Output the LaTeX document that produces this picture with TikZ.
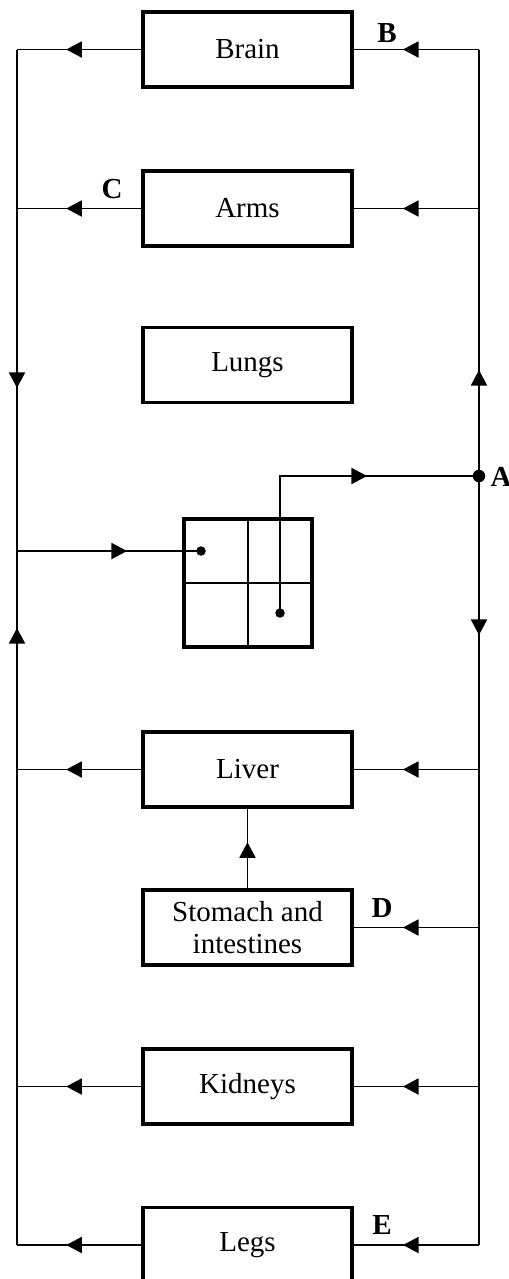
\documentclass[tikz,border=0pt]{standalone}
\usepackage{fontspec}
\setmainfont{Liberation Serif}
\usetikzlibrary{arrows.meta,decorations.markings}
\tikzset{
  organ/.style={draw,line width=2pt,minimum width=4.18cm,minimum height=1.5cm,inner sep=0pt,align=center,font=\fontsize{16.5}{18.5}\selectfont},
  conn/.style={line width=1.05pt},
  arrowat/.style={postaction={decorate},decoration={markings,mark=at position #1 with {\arrow{Triangle[length=0.31cm,width=0.32cm]}}}},
  dot/.style={circle,fill,inner sep=0pt,minimum size=#1},
  lab/.style={font=\fontsize{16.5}{18.5}\selectfont\bfseries}
}
\begin{document}
\begin{tikzpicture}[x=0.02cm,y=-0.02cm]
\useasboundingbox (0,0) rectangle (509,1279);
% organ boxes
\node[organ] (brain) at (247.5,49.5) {Brain};
\node[organ] (arms) at (247.5,208.5) {Arms};
\node[organ] (lungs) at (247.5,365) {Lungs};
\node[organ] (liver) at (247.5,769.5) {Liver};
\node[organ] (stomach) at (247.5,927.5) {Stomach and\\intestines};
\node[organ] (kidneys) at (247.5,1086.5) {Kidneys};
\node[organ] (legs) at (247.5,1245) {Legs};
% heart
\node[draw,line width=2pt,minimum size=2.56cm,inner sep=0pt] (heart) at (248,583) {};
\draw[conn] (heart.north) -- (heart.south);
\draw[conn] (heart.west) -- (heart.east);
\node[dot=0.19cm] (d1) at (201,551) {};
\node[dot=0.19cm] (d2) at (280,613) {};
% left trunk coordinates
\coordinate (Lb) at (17,49.5);
\coordinate (La) at (17,208.5);
\coordinate (Lh) at (17,551);
\coordinate (Ll) at (17,769.5);
\coordinate (Lk) at (17,1086.5);
\coordinate (Lg) at (17,1245);
% right trunk coordinates
\node[dot=0.25cm] (A) at (479,476) {};
\coordinate (Rb) at (479,49.5);
\coordinate (Ra) at (479,208.5);
\coordinate (Rl) at (479,769.5);
\coordinate (Rs) at (479,927.5);
\coordinate (Rk) at (479,1086.5);
\coordinate (Rg) at (479,1245);
% left trunk
\draw[conn] (Lb) -- (La);
\draw[conn,arrowat=3.59cm] (La) -- (Lh);
\draw[conn] (Lg) -- (Lk) -- (Ll);
\draw[conn,arrowat=2.83cm] (Ll) -- (Lh);
% right trunk
\draw[conn,arrowat=2.12cm] (A.center) -- (Ra);
\draw[conn] (Ra) -- (Rb);
\draw[conn,arrowat=3.18cm] (A.center) -- (Rl);
\draw[conn] (Rl) -- (Rs) -- (Rk) -- (Rg);
% outflows to left
\foreach \o/\c in {brain/Lb,arms/La,liver/Ll,kidneys/Lk,legs/Lg}
  \draw[conn,arrowat=1.5cm] (\o.west) -- (\c);
% inflows from right
\foreach \o/\c in {brain/Rb,arms/Ra,liver/Rl,stomach/Rs,kidneys/Rk,legs/Rg}
  \draw[conn,arrowat=1.52cm] (\c) -- (\o.east);
% heart connections
\draw[conn,arrowat=2.2cm] (Lh) -- (d1.center);
\draw[conn,arrowat=4.48cm] (d2.center) |- (A.center);
% stomach to liver
\draw[conn,arrowat=0.92cm] (stomach.north) -- (liver.south);
% labels
\node[lab] (lA) at (501,477) {A};
\node[lab] (lB) at (387,33) {B};
\node[lab] (lC) at (112,189) {C};
\node[lab] (lD) at (382,908) {D};
\node[lab] (lE) at (382,1225) {E};
\end{tikzpicture}
\end{document}
